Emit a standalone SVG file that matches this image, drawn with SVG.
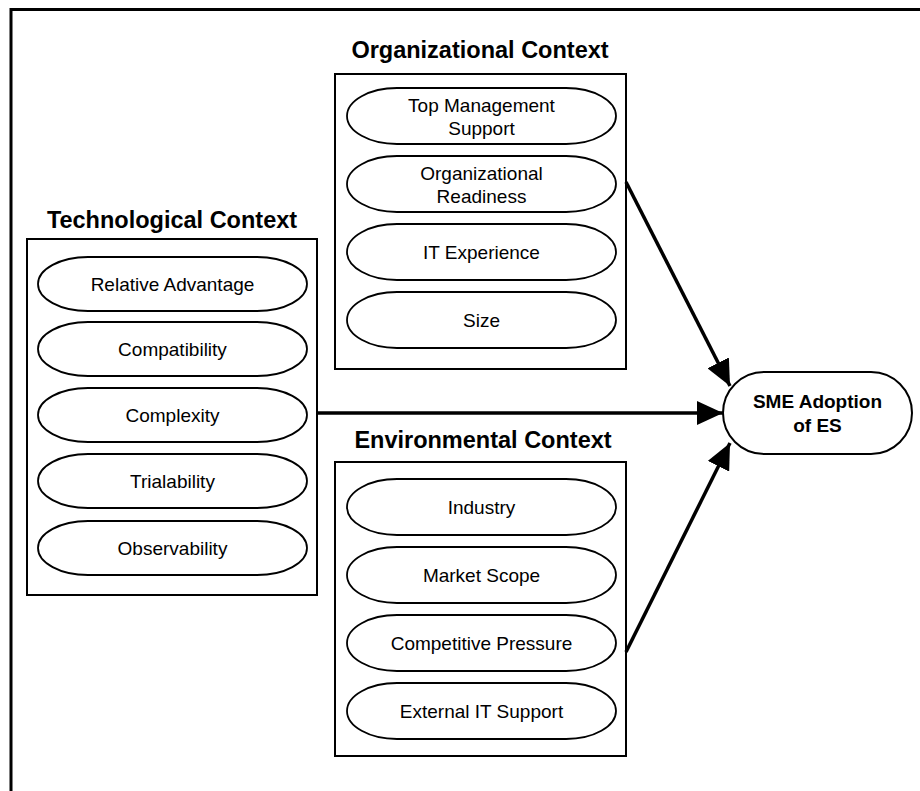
<svg xmlns="http://www.w3.org/2000/svg" width="920" height="791" viewBox="0 0 920 791">
<defs>
<style>
.frame{fill:none;stroke:#000;stroke-width:3}
.box{fill:#fff;stroke:#000;stroke-width:2}
.pill{fill:#fff;stroke:#000;stroke-width:1.8}
.title{font-family:"Liberation Sans",Arial,sans-serif;font-weight:bold;font-size:23.5px;text-anchor:middle;fill:#000}
.lbl{font-family:"Liberation Sans",Arial,sans-serif;font-size:19px;text-anchor:middle;fill:#000}
.blbl{font-family:"Liberation Sans",Arial,sans-serif;font-size:19px;font-weight:bold;text-anchor:middle;fill:#000}
.conn{fill:none;stroke:#000;stroke-width:3.5}
</style>
<marker id="ah" markerUnits="userSpaceOnUse" markerWidth="26" markerHeight="24" refX="26" refY="12" orient="auto" viewBox="0 0 26 24">
<path d="M0,0 L26,12 L0,24 z" fill="#000"/>
</marker>
</defs>
<rect width="920" height="791" fill="#fff"/>
<path class="frame" d="M11,791 L11,9.5 L925,9.5"/>

<g id="tech">
<text class="title" x="172" y="228">Technological Context</text>
<rect class="box" x="27" y="239" width="290" height="356"/>
<g id="t1"><rect class="pill" x="38" y="257" width="269" height="54" rx="50" ry="27"/><text class="lbl" x="172.5" y="291">Relative Advantage</text></g>
<g id="t2"><rect class="pill" x="38" y="322" width="269" height="54" rx="50" ry="27"/><text class="lbl" x="172.5" y="356">Compatibility</text></g>
<g id="t3"><rect class="pill" x="38" y="388" width="269" height="54" rx="50" ry="27"/><text class="lbl" x="172.5" y="422">Complexity</text></g>
<g id="t4"><rect class="pill" x="38" y="454" width="269" height="54" rx="50" ry="27"/><text class="lbl" x="172.5" y="488">Trialability</text></g>
<g id="t5"><rect class="pill" x="38" y="521" width="269" height="54" rx="50" ry="27"/><text class="lbl" x="172.5" y="555">Observability</text></g>
</g>

<g id="org">
<text class="title" x="480" y="58">Organizational Context</text>
<rect class="box" x="335" y="74" width="291" height="295"/>
<g id="o1"><rect class="pill" x="347" y="88" width="269" height="56" rx="50" ry="28"/><text class="lbl" x="481.5" y="112">Top Management</text><text class="lbl" x="481.5" y="135">Support</text></g>
<g id="o2"><rect class="pill" x="347" y="156" width="269" height="56" rx="50" ry="28"/><text class="lbl" x="481.5" y="180">Organizational</text><text class="lbl" x="481.5" y="203">Readiness</text></g>
<g id="o3"><rect class="pill" x="347" y="224" width="269" height="56" rx="50" ry="28"/><text class="lbl" x="481.5" y="259">IT Experience</text></g>
<g id="o4"><rect class="pill" x="347" y="292" width="269" height="56" rx="50" ry="28"/><text class="lbl" x="481.5" y="327">Size</text></g>
</g>

<g id="env">
<text class="title" x="483" y="448">Environmental Context</text>
<rect class="box" x="335" y="462" width="291" height="294"/>
<g id="e1"><rect class="pill" x="347" y="479" width="269" height="56" rx="50" ry="28"/><text class="lbl" x="481.5" y="514">Industry</text></g>
<g id="e2"><rect class="pill" x="347" y="547" width="269" height="56" rx="50" ry="28"/><text class="lbl" x="481.5" y="582">Market Scope</text></g>
<g id="e3"><rect class="pill" x="347" y="615" width="269" height="56" rx="50" ry="28"/><text class="lbl" x="481.5" y="650">Competitive Pressure</text></g>
<g id="e4"><rect class="pill" x="347" y="683" width="269" height="56" rx="50" ry="28"/><text class="lbl" x="481.5" y="718">External IT Support</text></g>
</g>

<g id="sme">
<rect class="pill" x="723" y="372" width="189" height="82" rx="41" ry="41" style="stroke-width:2"/>
<text class="blbl" x="817.5" y="408">SME Adoption</text>
<text class="blbl" x="817.5" y="432">of ES</text>
</g>

<g id="connectors">
<line class="conn" x1="626" y1="182" x2="730" y2="386" marker-end="url(#ah)"/>
<line class="conn" x1="317" y1="413" x2="723" y2="413" marker-end="url(#ah)"/>
<line class="conn" x1="626" y1="652" x2="730" y2="443" marker-end="url(#ah)"/>
</g>
</svg>
